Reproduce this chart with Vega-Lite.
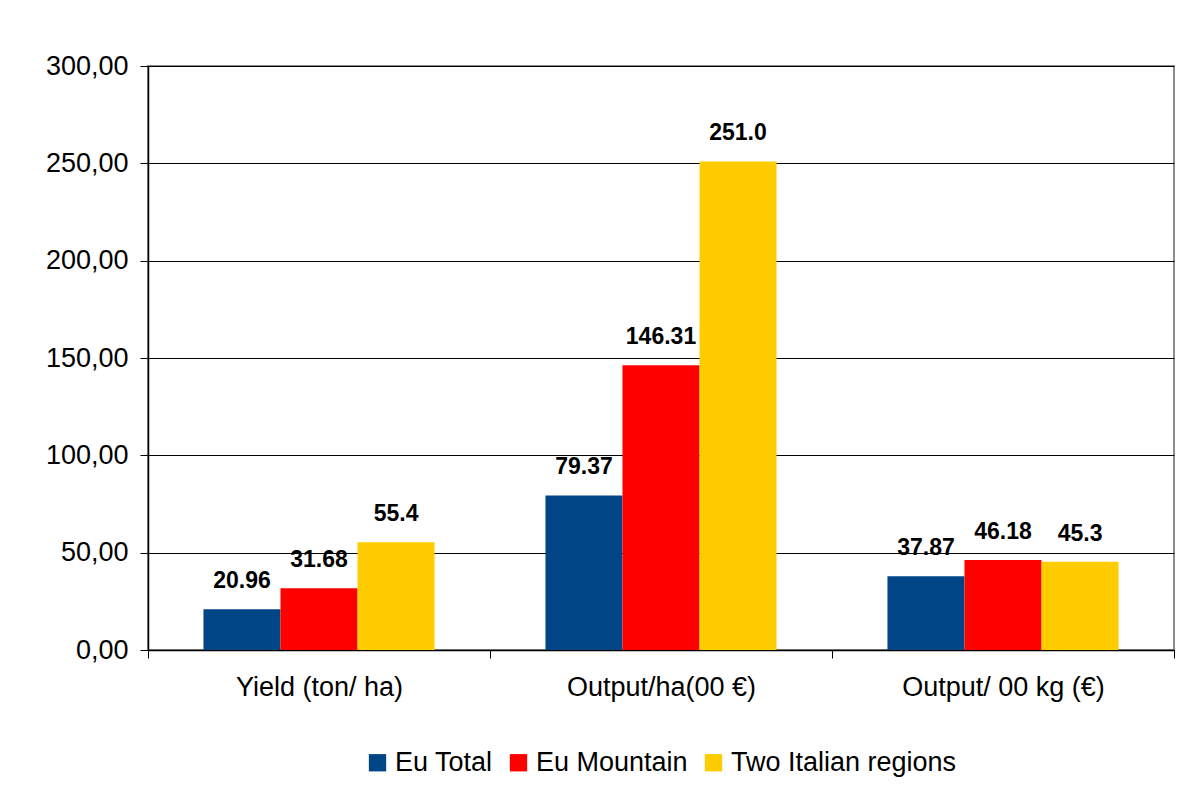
{
  "$schema": "https://vega.github.io/schema/vega-lite/v6.json",
  "width": 1026,
  "height": 584,
  "padding": {"left": 148, "top": 66, "right": 30, "bottom": 144},
  "autosize": {"type": "none"},
  "background": "white",
  "config": {
    "font": "Liberation Sans",
    "view": {"stroke": "#8c8c8c", "strokeWidth": 2},
    "axis": {"labelFont": "Liberation Sans", "labelColor": "black", "labelFontSize": 27}
  },
  "data": {
    "values": [
      {"category": "Yield (ton/ ha)", "series": "Eu Total", "value": 20.96, "label": "20.96"},
      {"category": "Yield (ton/ ha)", "series": "Eu Mountain", "value": 31.68, "label": "31.68"},
      {"category": "Yield (ton/ ha)", "series": "Two Italian regions", "value": 55.4, "label": "55.4"},
      {"category": "Output/ha(00 €)", "series": "Eu Total", "value": 79.37, "label": "79.37"},
      {"category": "Output/ha(00 €)", "series": "Eu Mountain", "value": 146.31, "label": "146.31"},
      {"category": "Output/ha(00 €)", "series": "Two Italian regions", "value": 251.0, "label": "251.0"},
      {"category": "Output/ 00 kg (€)", "series": "Eu Total", "value": 37.87, "label": "37.87"},
      {"category": "Output/ 00 kg (€)", "series": "Eu Mountain", "value": 46.18, "label": "46.18"},
      {"category": "Output/ 00 kg (€)", "series": "Two Italian regions", "value": 45.3, "label": "45.3"}
    ]
  },
  "encoding": {
    "x": {
      "field": "category", "type": "nominal", "sort": null,
      "scale": {"paddingInner": 0, "paddingOuter": 0},
      "axis": {
        "title": null, "labelAngle": 0, "tickBand": "extent",
        "domainColor": "black", "domainWidth": 1.5, "tickColor": "black", "tickSize": 8,
        "labelPadding": 16, "grid": false, "labelLimit": 0
      }
    },
    "xOffset": {
      "field": "series", "type": "nominal", "sort": ["Eu Total", "Eu Mountain", "Two Italian regions"],
      "scale": {"paddingInner": 0, "paddingOuter": 0.72}
    },
    "y": {
      "field": "value", "type": "quantitative",
      "scale": {"domain": [0, 300], "nice": false},
      "axis": {
        "title": null, "values": [0, 50, 100, 150, 200, 250, 300],
        "labelExpr": "replace(format(datum.value, '.2f'), '.', ',')",
        "domainColor": "black", "domainWidth": 1.5, "tickColor": "black", "tickSize": 8,
        "labelPadding": 12, "gridColor": "black", "gridWidth": 1, "gridOpacity": 1
      }
    }
  },
  "layer": [
    {
      "mark": {"type": "bar"},
      "encoding": {
        "color": {
          "field": "series", "type": "nominal",
          "sort": ["Eu Total", "Eu Mountain", "Two Italian regions"],
          "scale": {"domain": ["Eu Total", "Eu Mountain", "Two Italian regions"], "range": ["#004586", "#ff0000", "#ffcc00"]},
          "legend": {
            "title": null, "orient": "none", "direction": "horizontal",
            "legendX": 216, "legendY": 683,
            "symbolType": "square", "symbolSize": 300, "symbolStrokeWidth": 0,
            "labelFontSize": 27, "labelFont": "Liberation Sans", "labelColor": "black",
            "columnPadding": 12, "labelOffset": 4, "labelLimit": 0
          }
        }
      }
    },
    {
      "mark": {"type": "text", "baseline": "bottom", "dy": -16, "fontSize": 23, "fontWeight": "bold", "font": "Liberation Sans", "color": "black"},
      "encoding": {"text": {"field": "label", "type": "nominal"}}
    }
  ]
}
